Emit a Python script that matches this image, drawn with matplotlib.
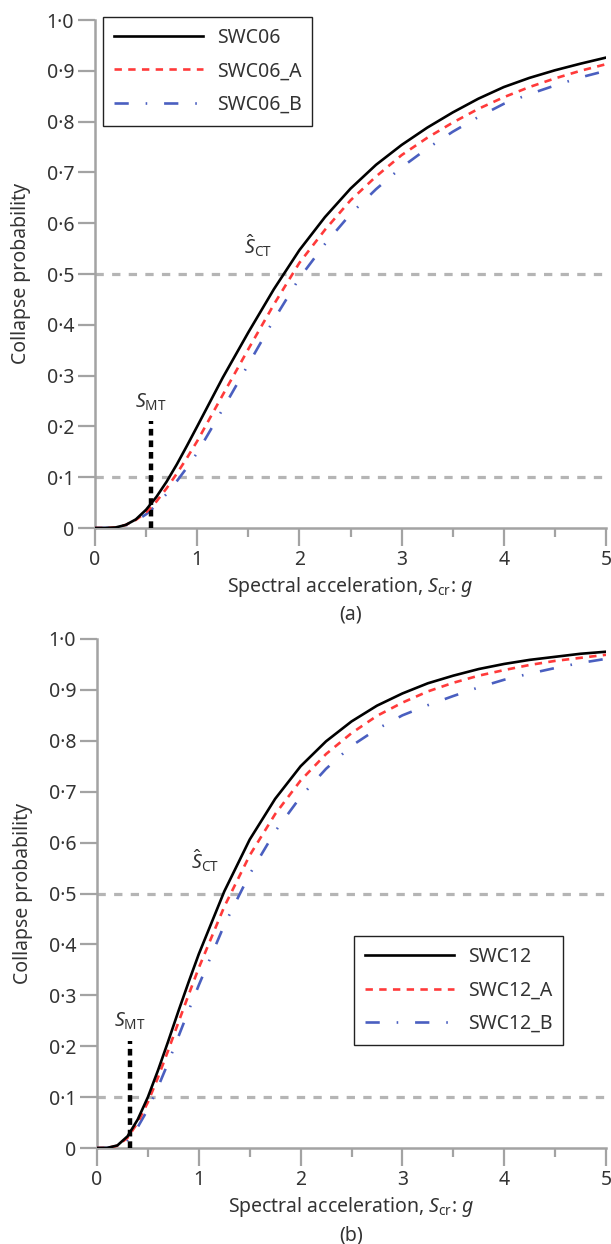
import matplotlib
matplotlib.use('Agg')
import matplotlib.pyplot as plt
from matplotlib.ticker import FixedLocator, MultipleLocator, NullLocator

# ---------------- data ----------------
x_vals = [0, 0.1, 0.2, 0.3, 0.4, 0.5, 0.6, 0.7, 0.8, 0.9, 1.0,
          1.25, 1.5, 1.75, 2.0, 2.25, 2.5, 2.75, 3.0, 3.25, 3.5,
          3.75, 4.0, 4.25, 4.5, 4.75, 5.0]

swc06   = [0, 0, 0.001, 0.006, 0.017, 0.036, 0.061, 0.091, 0.125, 0.162, 0.200,
           0.296, 0.385, 0.470, 0.547, 0.612, 0.668, 0.715, 0.754, 0.788, 0.818,
           0.845, 0.868, 0.886, 0.901, 0.914, 0.926]
swc06_a = [0, 0, 0.001, 0.006, 0.016, 0.031, 0.052, 0.078, 0.107, 0.138, 0.171,
           0.262, 0.352, 0.440, 0.522, 0.587, 0.645, 0.692, 0.734, 0.768, 0.798,
           0.825, 0.848, 0.868, 0.885, 0.900, 0.913]
swc06_b = [0, 0, 0.001, 0.005, 0.014, 0.027, 0.045, 0.067, 0.092, 0.119, 0.148,
           0.234, 0.322, 0.410, 0.492, 0.559, 0.618, 0.667, 0.710, 0.747, 0.780,
           0.809, 0.835, 0.854, 0.871, 0.887, 0.900]

swc12   = [0, 0.0002, 0.005, 0.023, 0.056, 0.100, 0.153, 0.210, 0.269, 0.326, 0.381,
           0.504, 0.606, 0.686, 0.750, 0.799, 0.838, 0.869, 0.893, 0.913, 0.928,
           0.941, 0.951, 0.959, 0.965, 0.971, 0.975]
swc12_a = [0, 0.0001, 0.0045, 0.020, 0.050, 0.090, 0.139, 0.192, 0.247, 0.301, 0.354,
           0.474, 0.575, 0.656, 0.722, 0.774, 0.815, 0.849, 0.875, 0.897, 0.914,
           0.928, 0.939, 0.949, 0.957, 0.963, 0.969]
swc12_b = [0, 0.0001, 0.0035, 0.016, 0.041, 0.076, 0.120, 0.168, 0.219, 0.270, 0.320,
           0.438, 0.538, 0.622, 0.690, 0.745, 0.790, 0.823, 0.850, 0.870, 0.888,
           0.905, 0.920, 0.932, 0.943, 0.953, 0.961]

labels_a = ['SWC06', 'SWC06_A', 'SWC06_B']
labels_b = ['SWC12', 'SWC12_A', 'SWC12_B']

s_mt = [0.55, 0.32]          # S_MT positions (g)
s_mt_top = 0.21
s_ct_label_pos = [(1.59, 0.555), (1.06, 0.565)]
ref_levels = [0.1, 0.5]

y_ticks = [0, 0.1, 0.2, 0.3, 0.4, 0.5, 0.6, 0.7, 0.8, 0.9, 1.0]
y_ticklabels = ['0', '0·1', '0·2', '0·3', '0·4', '0·5', '0·6', '0·7', '0·8', '0·9', '1·0']
x_ticks = [0, 1, 2, 3, 4, 5]

# ---------------- style ----------------
FONT = 'Noto Sans'
plt.rcParams['font.family'] = [FONT, 'DejaVu Sans']
plt.rcParams['mathtext.fontset'] = 'custom'
plt.rcParams['mathtext.rm'] = FONT
plt.rcParams['mathtext.it'] = FONT + ':italic'
plt.rcParams['mathtext.bf'] = FONT + ':bold'
plt.rcParams['mathtext.bfit'] = FONT + ':italic:bold'

TXT = '#333333'
SPINE = '#a3a3a3'
RED = '#ff3a3a'
BLUE = '#4a5fc0'
GRAY = '#b5b5b5'
FS = 14

fig = plt.figure(figsize=(6.11, 12.44), dpi=100)
W, H = 611, 1244

def px_axes(l, r, t, b):
    return [l / W, 1 - b / H, (r - l) / W, (b - t) / H]

ax_a = fig.add_axes(px_axes(95, 606, 20, 528))
ax_b = fig.add_axes(px_axes(97, 606, 639, 1148))

panels = [
    (ax_a, [swc06, swc06_a, swc06_b], labels_a, s_mt[0], s_ct_label_pos[0],
     dict(loc='upper left', bbox_to_anchor=(0.0157, 1.006)), '(a)'),
    (ax_b, [swc12, swc12_a, swc12_b], labels_b, s_mt[1], s_ct_label_pos[1],
     dict(loc='upper left', bbox_to_anchor=(0.505, 0.4165)), '(b)'),
]

for ax, series, labels, smt, sct, legkw, cap in panels:
    # reference levels
    for lv in ref_levels:
        ax.plot([0, 5], [lv, lv], color=GRAY, lw=2.3, dashes=(2.6, 2.6),
                zorder=1, solid_capstyle='butt')
    # S_MT dotted line
    ax.plot([smt, smt], [0, s_mt_top], color='black', lw=3.2,
            dashes=(1.5, 1.1), zorder=4)
    l1, = ax.plot(x_vals, series[0], color='black', lw=1.9, zorder=5,
                  label=labels[0])
    l2, = ax.plot(x_vals, series[1], color=RED, lw=1.9, dashes=(2.8, 2.4),
                  zorder=4, label=labels[1])
    l3, = ax.plot(x_vals, series[2], color=BLUE, lw=1.9,
                  dashes=(5.4, 6.4, 0.6, 6.4), zorder=3, label=labels[2])

    ax.set_xlim(0, 5)
    ax.set_ylim(0, 1)
    for sp in ['top', 'right']:
        ax.spines[sp].set_visible(False)
    for sp in ['left', 'bottom']:
        ax.spines[sp].set_color(SPINE)
        ax.spines[sp].set_linewidth(1.8)
    ax.yaxis.set_major_locator(FixedLocator(y_ticks))
    ax.set_yticklabels(y_ticklabels)
    ax.xaxis.set_major_locator(FixedLocator(x_ticks))
    ax.xaxis.set_minor_locator(MultipleLocator(0.5))
    ax.yaxis.set_minor_locator(NullLocator())
    ax.tick_params(axis='both', which='major', direction='out', length=12,
                   width=1.6, color=SPINE, labelsize=FS, labelcolor=TXT, pad=3)
    ax.tick_params(axis='x', which='major', length=13, pad=3)
    ax.tick_params(axis='x', which='minor', direction='out', length=6.5,
                   width=1.6, color=SPINE)

    ax.set_ylabel('Collapse probability', fontsize=FS, color=TXT)
    ax.yaxis.set_label_coords(-0.125, 0.5)
    ax.set_xlabel(r'Spectral acceleration, $S_{\mathrm{cr}}$: $\mathbfit{g}$',
                  fontsize=FS, color=TXT)
    ax.xaxis.set_label_coords(0.5, -0.093)
    ax.text(0.5, -0.171, cap, transform=ax.transAxes, ha='center', va='center',
            fontsize=FS, color=TXT)

    ax.text(smt, s_mt_top + 0.038, r'$S_{\mathrm{MT}}$', ha='center',
            va='center', fontsize=FS, color=TXT)
    ax.text(sct[0], sct[1], r'$\hat{S}_{\mathrm{CT}}$', ha='center',
            va='center', fontsize=FS, color=TXT)

    leg = ax.legend(handles=[l1, l2, l3], fontsize=FS, frameon=True,
                    fancybox=False, edgecolor='#222222', framealpha=1,
                    borderaxespad=0, handlelength=4.6, handletextpad=0.7,
                    labelspacing=0.7, borderpad=0.55, **legkw)
    leg.get_frame().set_linewidth(1.0)
    for t in leg.get_texts():
        t.set_color(TXT)

fig.savefig('out.png', dpi=100)
